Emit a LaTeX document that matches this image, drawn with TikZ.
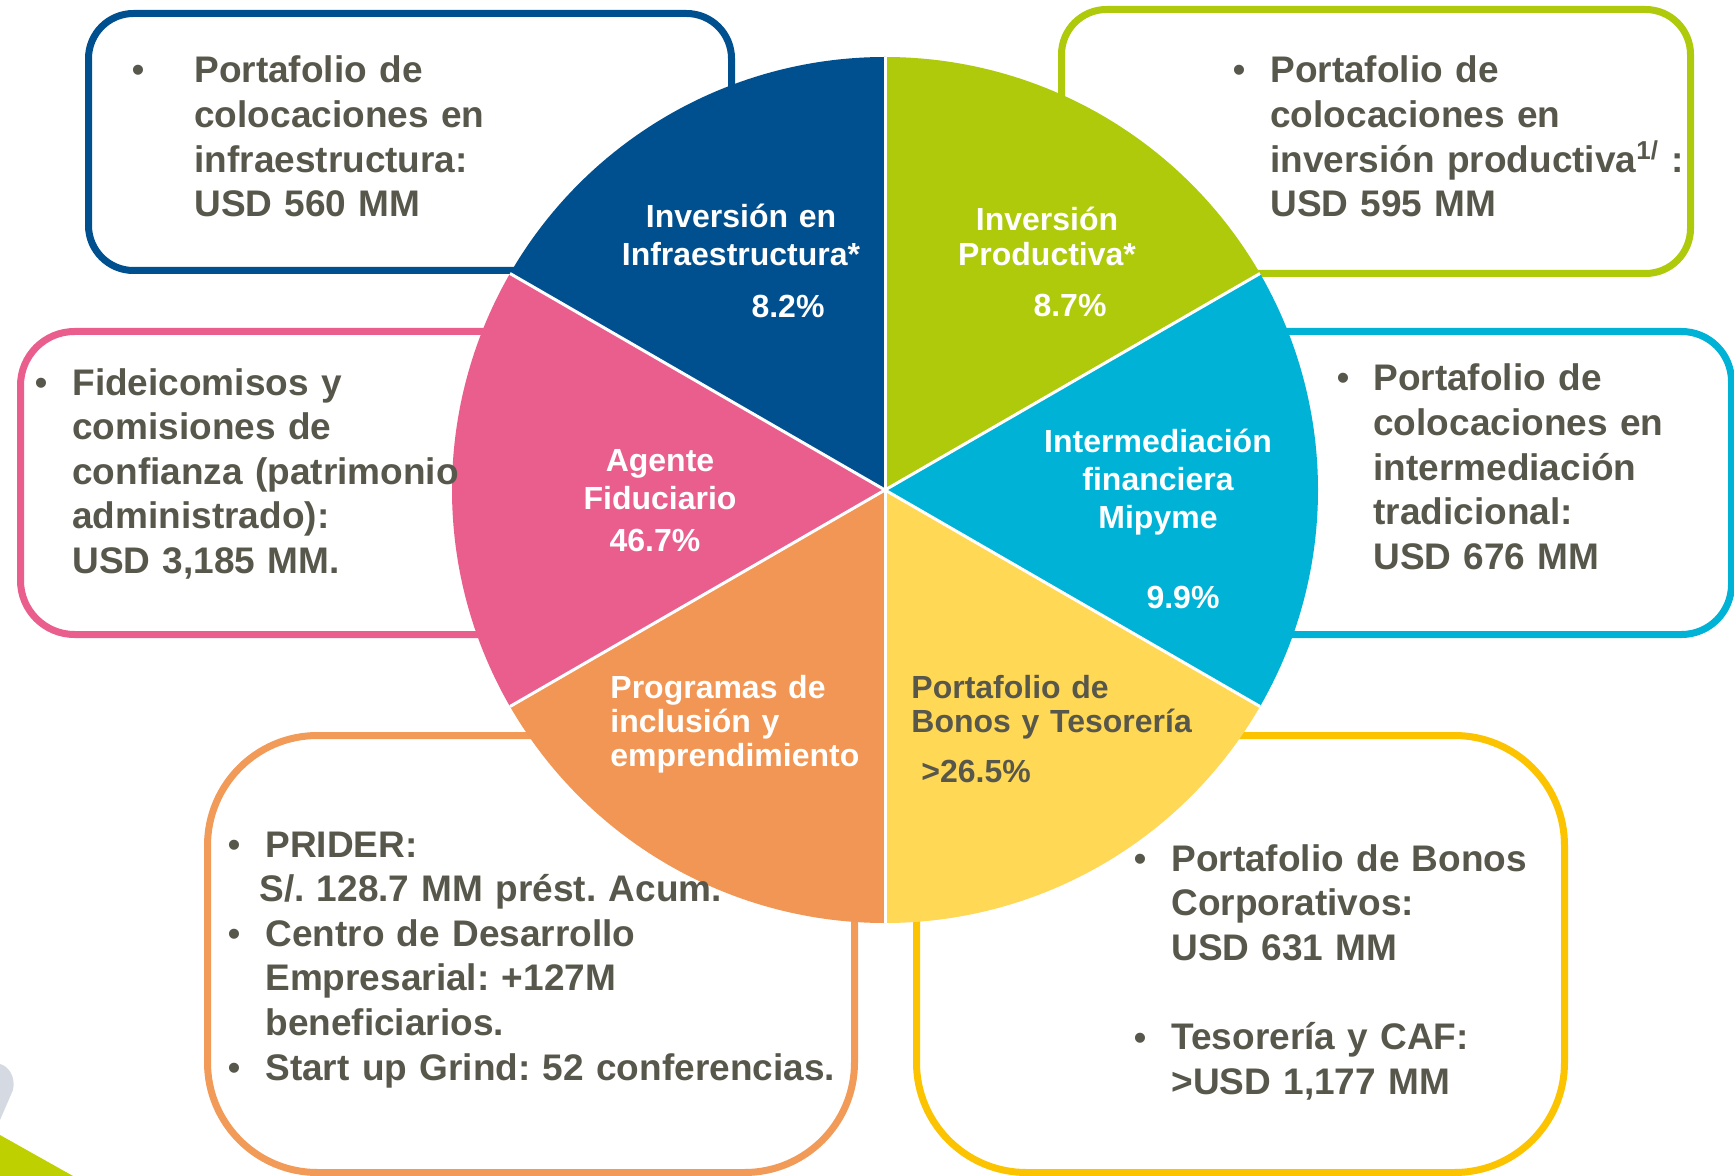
\documentclass[tikz,border=0pt]{standalone}
\usepackage{fontspec}
\setmainfont{Liberation Sans}
\frenchspacing
\definecolor{cblue}{RGB}{0,80,143}
\definecolor{cgreen}{RGB}{174,202,11}
\definecolor{ccyan}{RGB}{0,178,214}
\definecolor{cyellow}{RGB}{255,216,86}
\definecolor{corange}{RGB}{241,150,84}
\definecolor{cpink}{RGB}{234,94,141}
\definecolor{bgold}{RGB}{252,196,0}
\definecolor{borange}{RGB}{242,154,88}
\definecolor{tgrey}{RGB}{88,87,75}
\definecolor{lime}{RGB}{190,208,0}
\definecolor{lgrey}{RGB}{213,218,226}
\tikzset{
  boxline/.style={line width=3.5pt, rounded corners=#1},
  boxtext/.style={anchor=base west, inner sep=0pt, text width=330pt, align=left, text=tgrey,
    font=\bfseries\fontsize{18.5}{22.3}\selectfont\frenchspacing},
  bul/.style={anchor=base, inner sep=0pt, text=tgrey, font=\fontsize{18.5}{22.3}\selectfont},
  plabel/.style={anchor=base, inner sep=0pt, text width=200pt, align=center, text=white,
    font=\bfseries\fontsize{16}{19}\selectfont},
  plabelL/.style={anchor=base west, inner sep=0pt, text width=200pt, align=left,
    font=\bfseries\fontsize{16}{17}\selectfont},
  pct/.style={anchor=base, inner sep=0pt, text=white, font=\bfseries\fontsize{16}{19}\selectfont},
}
\begin{document}
\begin{tikzpicture}[x=0.5pt,y=-0.5pt]
\useasboundingbox (0,0) rectangle (1734,1176);
\fill[white] (0,0) rectangle (1734,1176);
% decorations bottom-left
\fill[lgrey] (0,1064) .. controls (8,1066) and (16,1076) .. (13,1090) -- (0,1120) -- cycle;
\fill[lime] (0,1135) -- (73,1176) -- (0,1176) -- cycle;
% boxes
\draw[boxline=22.5pt, draw=cblue] (88.5,13.5) rectangle (731.5,270.5);
\draw[boxline=22.5pt, draw=cgreen] (1061.5,9.5) rectangle (1690.5,273.5);
\draw[boxline=27pt, draw=cpink] (20.5,331.5) rectangle (700,634.5);
\draw[boxline=25pt, draw=ccyan] (1100,331.5) rectangle (1731.5,634.5);
\draw[boxline=55pt, draw=borange] (207.5,735.5) rectangle (854.5,1172.5);
\draw[boxline=55pt, draw=bgold] (916.5,735.5) rectangle (1564.5,1172.5);
% pie
\coordinate (c) at (885,490);
\fill[cblue] (c) -- ++(-90:433) arc[start angle=-90, end angle=-150, radius=433] -- cycle;
\fill[cpink] (c) -- ++(-150:433) arc[start angle=-150, end angle=-210, radius=433] -- cycle;
\fill[corange] (c) -- ++(-210:433) arc[start angle=-210, end angle=-270, radius=433] -- cycle;
\fill[cyellow] (c) -- ++(-270:433) arc[start angle=-270, end angle=-330, radius=433] -- cycle;
\fill[ccyan] (c) -- ++(-330:433) arc[start angle=-330, end angle=-390, radius=433] -- cycle;
\fill[cgreen] (c) -- ++(-30:433) arc[start angle=-30, end angle=-90, radius=433] -- cycle;
\foreach \a in {90,30,-30,-90,-150,150}
  \draw[white, line width=1.5pt] (c) -- ++(\a:433);
% pie labels
\node[plabel] (l1) at (741,228) {Inversión en\\Infraestructura*};
\node[pct] (p1) at (788,318) {8.2\%};
\node[plabel] (l2) at (1047,231) {Inversión\\[-1.5pt]Productiva*};
\node[pct] (p2) at (1070,317) {8.7\%};
\node[plabel] (l3) at (1158,452) {Intermediación\\financiera\\Mipyme};
\node[pct] (p3) at (1183,608) {9.9\%};
\node[plabel] (l4) at (660,471) {Agente\\Fiduciario};
\node[pct] (p4) at (655,551) {46.7\%};
\node[plabelL, text=white] (l5) at (610,698) {Programas de\\inclusión y\\emprendimiento};
\node[plabelL, text=tgrey] (l6) at (911,698) {Portafolio de\\Bonos y Tesorería};
\node[pct, anchor=base west, text=tgrey] (p6) at (921,782) {>26.5\%};
% box texts
\node[bul] (b1) at (138,83) {•};
\node[boxtext] (t1) at (194,83) {Portafolio de\\colocaciones en\\infraestructura:\\USD 560 MM};
\node[bul] (b2) at (1239,83) {•};
\node[boxtext] (t2) at (1270,83) {Portafolio de\\colocaciones en\\inversión productiva\textsuperscript{1/} :\\USD 595 MM};
\node[bul] (b3) at (41,395) {•};
\node[boxtext] (t3) at (72,395) {Fideicomisos y\\comisiones de\\confianza (patrimonio\\administrado):\\USD 3,185 MM.};
\node[bul] (b4) at (1343,391) {•};
\node[boxtext] (t4) at (1373,391) {Portafolio de\\colocaciones en\\intermediación\\tradicional:\\USD 676 MM};
\node[bul] (b5a) at (234,857) {•};
\node[bul] (b5b) at (234,946) {•};
\node[bul] (b5c) at (234,1080) {•};
\node[boxtext] (t5) at (265,857) {PRIDER:\\\hspace*{-3pt}S/. 128.7 MM prést. Acum.\\Centro de Desarrollo\\Empresarial: +127M\\beneficiarios.\\Start up Grind: 52 conferencias.};
\node[bul] (b6a) at (1140,871) {•};
\node[bul] (b6b) at (1140,1050) {•};
\node[boxtext] (t6) at (1171,871) {Portafolio de Bonos\\Corporativos:\\USD 631 MM\\\mbox{}\\Tesorería y CAF:\\>USD 1,177 MM};
\end{tikzpicture}
\end{document}
